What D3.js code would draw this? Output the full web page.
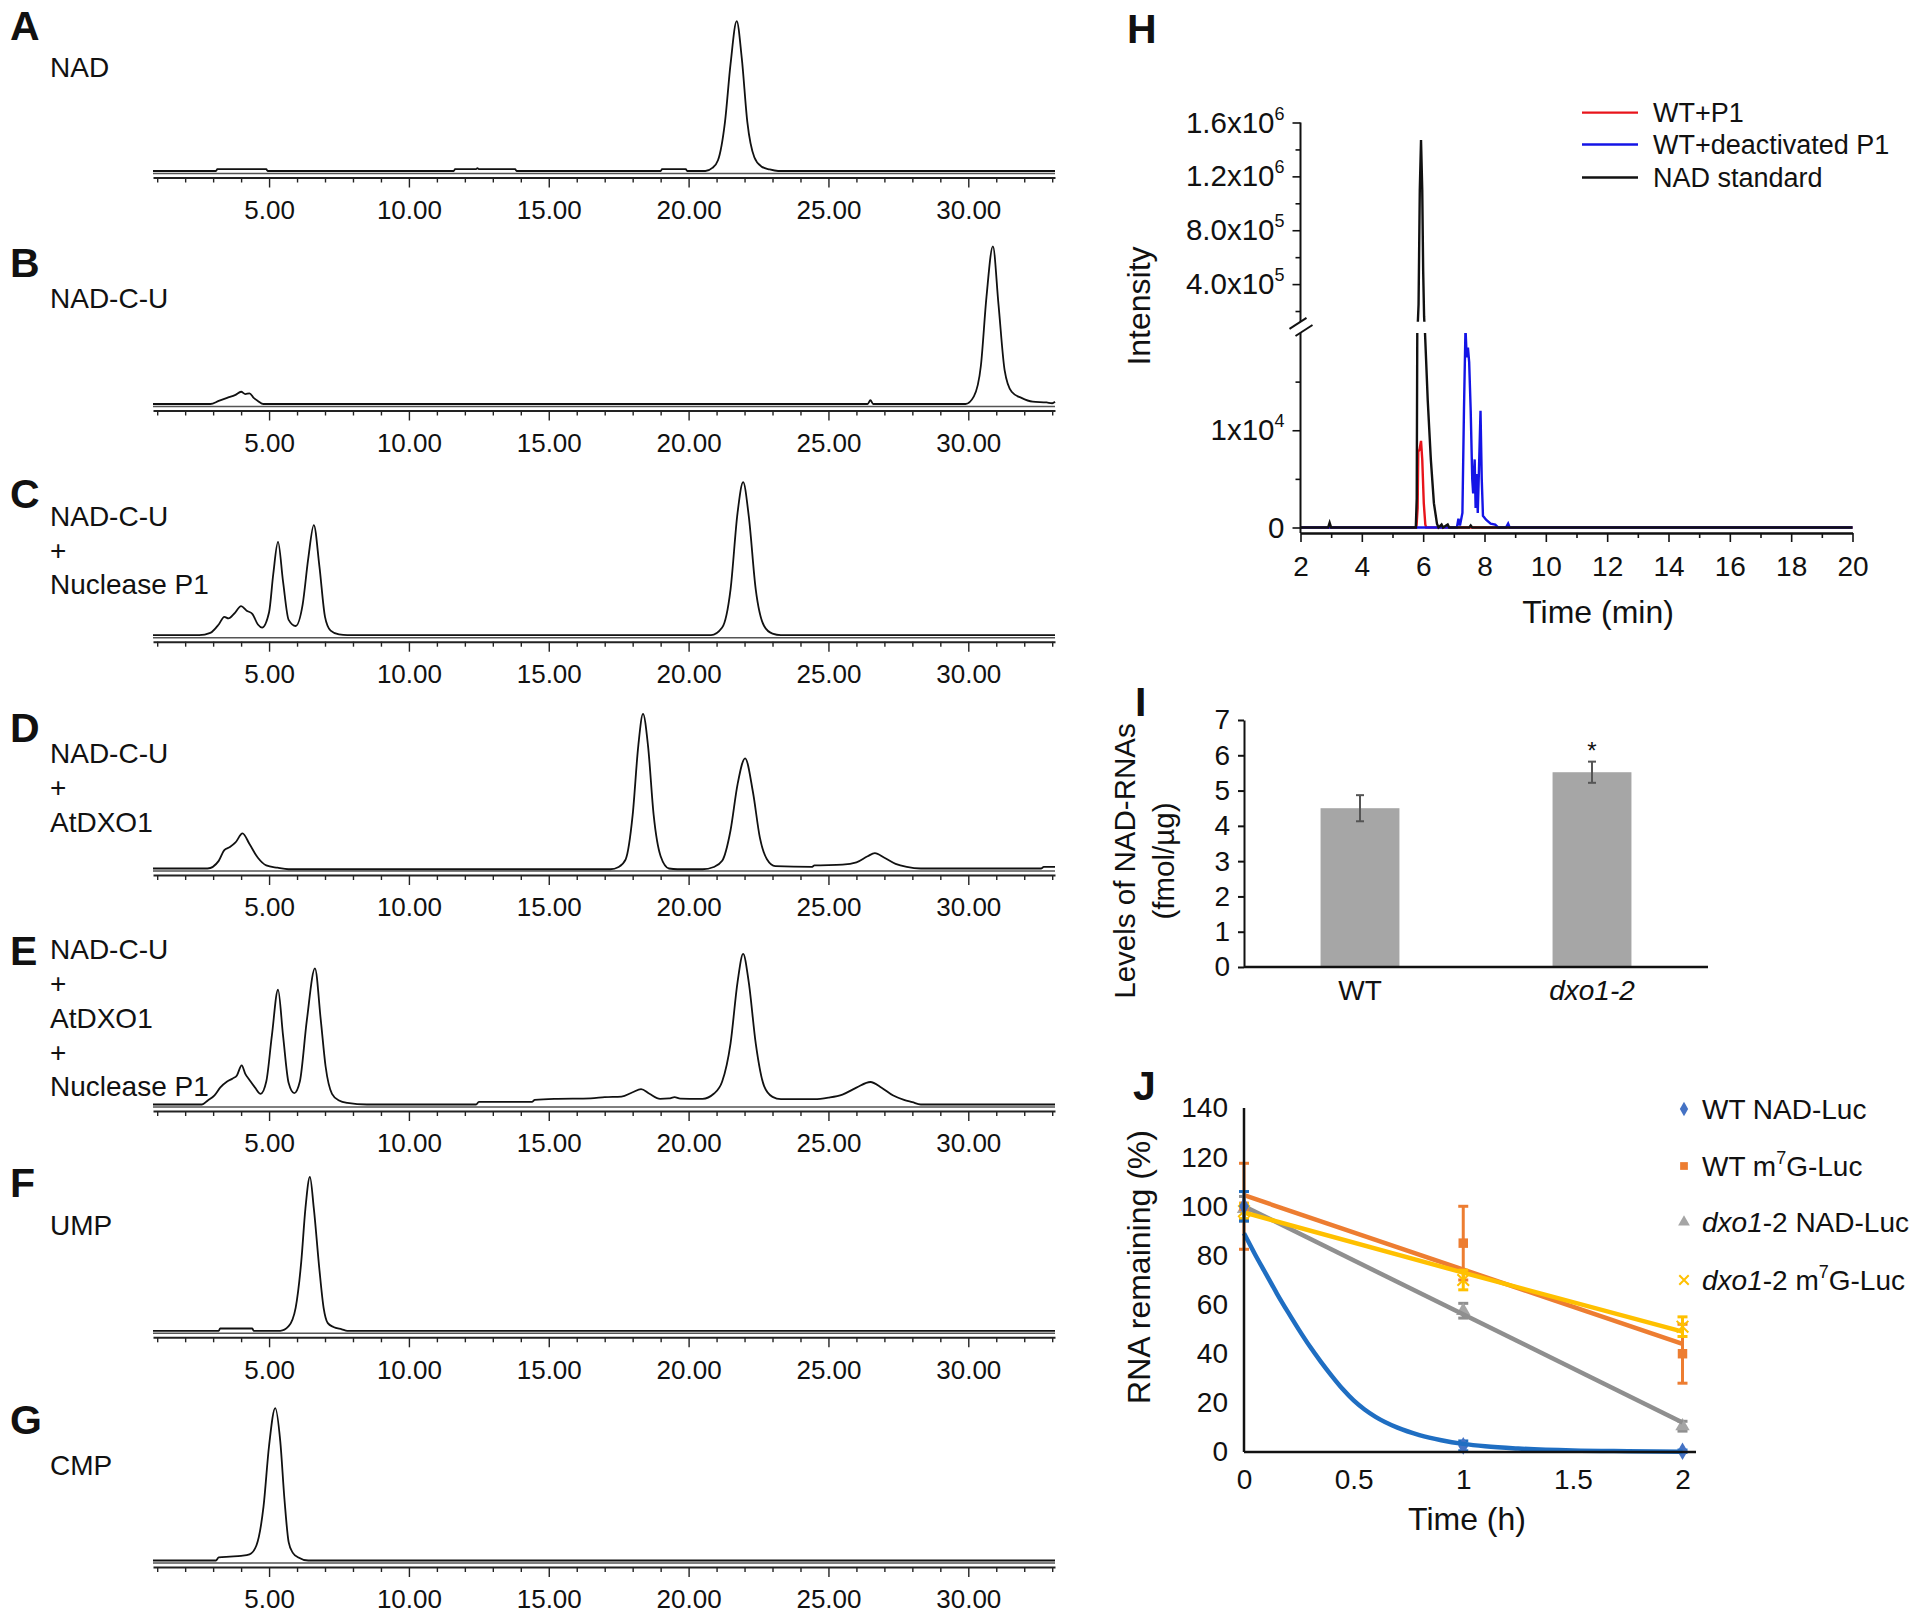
<!DOCTYPE html>
<html>
<head>
<meta charset="utf-8">
<script src="https://cdn.jsdelivr.net/npm/d3@7"></script>
<style>
  body { margin: 0; background: #fff; }
  text { font-family: "Liberation Sans", Arial, sans-serif; fill: #111; }
</style>
</head>
<body>
<svg id="fig" width="1920" height="1614"></svg>
<script>
// ---------- data: HPLC traces A-G, [time (min), relative absorbance %] ----------
const hplcMajor = [5, 10, 15, 20, 25, 30];

const traceNAD = [[0.85,0],[3.1,0],[3.15,1.2],[4.9,1.2],[4.95,0],[11.6,0],[11.65,1.2],[12.4,1.2],[12.45,1.8],[12.5,1.2],[13.8,1.2],[13.85,0],
  [19.0,0],[19.05,1.2],[19.9,1.2],[19.95,0],[20.6,0],[20.85,2],[21.05,7],[21.3,32],[21.5,70],[21.72,98],[21.9,74],[22.1,32],[22.35,9],
  [22.6,3],[22.9,1],[23.2,0],[33.1,0]];

const traceNADCU = [[0.85,0],[2.9,0],[3.2,2],[3.5,4],[3.8,6],[4.0,8],[4.15,6.5],[4.3,7],[4.45,4],[4.6,2],[4.8,0],[26.4,0],[26.5,2.5],[26.6,0],
  [29.9,0],[30.2,5],[30.45,25],[30.65,70],[30.88,103],[31.08,65],[31.3,22],[31.55,8],[31.9,4],[32.3,1.5],[32.8,1],[33.0,0.5],[33.1,1.5]];

const traceNADCU_P1 = [[0.85,0],[2.5,0],[2.9,1.5],[3.2,7],[3.4,12],[3.55,11],[3.75,14],[4.0,19],[4.2,16],[4.4,14],[4.6,7],[4.75,5],[5.0,15],
  [5.15,40],[5.32,61],[5.5,35],[5.7,10],[5.95,6],[6.2,20],[6.4,50],[6.6,72],[6.8,45],[7.0,12],[7.2,3],[7.5,0.5],[7.8,0],[20.8,0],[21.2,5],
  [21.5,30],[21.75,80],[21.95,100],[22.15,78],[22.4,30],[22.7,6],[23.0,1],[23.3,0],[33.1,0]];

const traceNADCU_DXO = [[0.85,0],[2.8,0],[3.2,5],[3.4,12],[3.6,14],[3.8,17],[4.05,23],[4.3,16],[4.6,7],[4.9,2],[5.3,0.5],[5.7,-0.5],[17.2,-0.5],
  [17.5,1],[17.75,6],[18.0,35],[18.2,80],[18.37,101],[18.55,80],[18.75,35],[19.0,8],[19.3,0],[19.6,-0.5],[20.5,-0.5],[20.9,1],[21.2,5],
  [21.5,25],[21.75,55],[22.02,72],[22.3,50],[22.55,20],[22.8,6],[23.1,1.5],[24.4,1],[24.5,2],[25.5,2.5],[26.0,4],[26.4,8],[26.66,10],
  [27.0,7],[27.4,3],[27.8,1],[28.3,0],[32.6,0],[32.7,1],[33.1,1]];

const traceNADCU_DXO_P1 = [[0.85,0],[2.6,0],[2.8,2.5],[3.05,6],[3.25,11],[3.5,15],[3.7,17],[3.85,19],[4.02,25.6],[4.15,20],[4.3,16],[4.5,11],
  [4.7,7],[4.9,15],[5.1,45],[5.32,75],[5.5,45],[5.7,14],[5.9,7.4],[6.1,15],[6.35,55],[6.64,89],[6.85,55],[7.02,25],[7.25,7],[7.5,2.6],
  [7.8,1],[8.5,0],[12.4,0],[12.5,1.7],[14.4,1.7],[14.5,3],[15.2,3.7],[16.5,4],[17.0,4.8],[17.6,5.2],[18.0,8],[18.3,10],[18.6,7],[18.98,3.7],
  [19.3,4],[19.5,4.8],[19.7,3.8],[20.5,3.7],[20.9,7],[21.2,15],[21.5,40],[21.75,80],[21.95,98.5],[22.15,80],[22.4,40],[22.7,12],[23.0,5],
  [23.3,3.5],[24.5,3.5],[25.0,4.5],[25.5,6.5],[26.0,11],[26.5,14.7],[26.9,11],[27.3,6],[27.7,3],[28.0,1.5],[28.3,0],[33.1,0]];

const traceUMP = [[0.85,0],[3.2,0],[3.25,1.5],[4.4,1.5],[4.45,0],[5.4,0],[5.7,3],[5.95,15],[6.15,45],[6.3,80],[6.46,100.6],[6.6,80],
  [6.8,40],[6.95,15],[7.1,5],[7.3,2.5],[7.6,1],[7.8,0],[33.1,0]];

const traceCMP = [[0.85,0],[3.1,0],[3.2,2],[3.6,2.5],[4.0,3],[4.3,4],[4.55,10],[4.8,35],[5.0,75],[5.22,99.6],[5.4,78],[5.55,40],[5.7,12],
  [5.85,5],[6.05,2],[6.4,0],[33.1,0]];

// ---------- data: H, LC-MS intensity vs time (min) ----------
const hTicks = [2, 4, 6, 8, 10, 12, 14, 16, 18, 20];
const hLegend = ["WT+P1", "WT+deactivated P1", "NAD standard"];
const hRed = [[2,0],[5.78,0],[5.82,2000],[5.84,7800],[5.88,8000],[5.93,8900],[5.97,7000],[6.02,2500],[6.07,300],[6.1,0],[20,0]];
const hBlue = [[2,0],[7.1,0],[7.15,900],[7.2,200],[7.28,1500],[7.33,12000],[7.38,20500],[7.42,17500],[7.46,18500],[7.5,17000],
  [7.55,12000],[7.6,5000],[7.63,3500],[7.68,7000],[7.71,2000],[7.75,5500],[7.78,1500],[7.82,6000],[7.87,12000],[7.91,5000],[7.95,1200],
  [8.05,800],[8.2,400],[8.35,300],[8.45,0],[8.7,0],[8.77,400],[8.82,0],[20,0]];
const hBlack = [[2,0],[2.9,0],[2.95,500],[3.0,0],[5.76,0],[5.79,3000],[5.81,22000],[5.85,250000],[5.89,1100000],[5.93,1470000],
  [5.97,1100000],[6.0,500000],[6.03,160000],[6.06,20000],[6.15,13000],[6.25,7000],[6.35,2500],[6.45,400],[6.5,0],[6.6,300],[6.65,0],
  [6.8,300],[6.85,0],[7.5,0],[7.55,200],[7.6,0],[20,0]];

// ---------- data: I, NAD-RNA levels ----------
const iGroups = ["WT", "dxo1-2"];
const iValues = [4.5, 5.52];
const iErrors = [0.37, 0.3];

// ---------- data: J, RNA remaining (%) vs time (h) ----------
const jTimes = [0, 1, 2];
const jNames = ["WT NAD-Luc", "WT m7G-Luc", "dxo1-2 NAD-Luc", "dxo1-2 m7G-Luc"];
const wtNad = [100, 2.5, 0.3];      const wtNadErr = [6, 2, 0.5];
const wtM7g = [100, 85, 40];        const wtM7gErr = [17.5, 15, 12];
const dxoNad = [99, 57.5, 10.5];    const dxoNadErr = [5, 3, 2];
const dxoM7g = [98, 70, 51];        const dxoM7gErr = [3, 4, 4];
const trendWtNad = [[0,89],[0.05,80.5],[0.1,72.5],[0.15,64.5],[0.2,57],[0.25,49.8],[0.3,43],[0.35,36.8],[0.4,31],[0.45,25.6],[0.5,21],
  [0.55,17.3],[0.6,14.3],[0.7,9.9],[0.8,6.9],[0.9,4.8],[1.0,3.3],[1.1,2.3],[1.25,1.4],[1.5,0.6],[1.75,0.3],[2.0,0.1]];
const trendWtM7g = [[0,104.5],[2,44]];
const trendDxoNad = [[0,100],[2,12]];
const trendDxoM7g = [[0,97.5],[1,73],[2,49]];

// ---------- layout ----------
const svg = d3.select("#fig");
const FONT = "Liberation Sans, Arial, sans-serif";

const panels = [
  { letter: "A", letterY: 40,  labels: ["NAD"], labelY: 77, axisY: 177.5, trace: traceNAD },
  { letter: "B", letterY: 277, labels: ["NAD-C-U"], labelY: 307.6, axisY: 410.5, trace: traceNADCU },
  { letter: "C", letterY: 508, labels: ["NAD-C-U", "+", "Nuclease P1"], labelY: 525.5, axisY: 641.7, trace: traceNADCU_P1 },
  { letter: "D", letterY: 742, labels: ["NAD-C-U", "+", "AtDXO1"], labelY: 763, axisY: 875, trace: traceNADCU_DXO },
  { letter: "E", letterY: 965, labels: ["NAD-C-U", "+", "AtDXO1", "+", "Nuclease P1"], labelY: 959, axisY: 1111, trace: traceNADCU_DXO_P1 },
  { letter: "F", letterY: 1197, labels: ["UMP"], labelY: 1234.5, axisY: 1337.3, trace: traceUMP },
  { letter: "G", letterY: 1434, labels: ["CMP"], labelY: 1474.5, axisY: 1567, trace: traceCMP },
];

const panelLetter = (x, y, t) => svg.append("text").attr("x", x).attr("y", y)
  .attr("font-size", 41).attr("font-weight", "bold").text(t);

// ---------- A-G chromatograms ----------
const xT = d3.scaleLinear().domain([0.85, 33.1]).range([153, 1055]);
const minorT = d3.range(1, 34).filter(d => d % 5 !== 0);

panels.forEach(p => {
  const base = p.axisY - 6.5;
  const y = d3.scaleLinear().domain([0, 100]).range([base, base - 153]);
  const g = svg.append("g");

  panelLetter(10, p.letterY, p.letter);
  p.labels.forEach((t, i) => {
    g.append("text").attr("x", 50).attr("y", p.labelY + i * 34.3).attr("font-size", 28).text(t);
  });

  // reference line under the trace (double baseline look)
  g.append("line")
    .attr("x1", xT(0.85)).attr("x2", xT(33.1))
    .attr("y1", y(0) + 2.5).attr("y2", y(0) + 2.5)
    .attr("stroke", "#555").attr("stroke-width", 1.5);

  g.append("path").datum(p.trace)
    .attr("fill", "none").attr("stroke", "#111").attr("stroke-width", 1.8)
    .attr("d", d3.line().x(d => xT(d[0])).y(d => y(d[1])).curve(d3.curveMonotoneX));

  const ax = g.append("g").attr("transform", `translate(0,${p.axisY})`);
  ax.append("g").call(d3.axisBottom(xT).tickValues(minorT).tickSize(5).tickSizeOuter(0).tickFormat(""))
    .call(a => a.select(".domain").remove());
  ax.append("g").call(d3.axisBottom(xT).tickValues(hplcMajor).tickSize(10).tickSizeOuter(0)
      .tickPadding(13).tickFormat(d3.format(".2f")))
    .attr("font-family", FONT).attr("font-size", 26);
  ax.selectAll("line").attr("stroke", "#222").attr("stroke-width", 1.4);
  ax.selectAll(".domain").attr("stroke", "#222").attr("stroke-width", 2);
  ax.selectAll("text").attr("fill", "#111");
});

// ---------- H: LC-MS chromatogram with broken y axis ----------
{
  panelLetter(1127, 43, "H");
  const x = d3.scaleLinear().domain([2, 20]).range([1300.5, 1852.5]);
  const yLow = d3.scaleLinear().domain([0, 20000]).range([527.5, 333]);
  const yUp = d3.scaleLinear().domain([400000, 1600000]).range([284.1, 122.5]);
  const axisY = 533;
  const g = svg.append("g");

  svg.append("defs").call(d => {
    d.append("clipPath").attr("id", "clipLow").append("rect")
      .attr("x", x(2)).attr("y", yLow(20000)).attr("width", x(20) - x(2) + 4).attr("height", axisY - 2 - yLow(20000));
    d.append("clipPath").attr("id", "clipUp").append("rect")
      .attr("x", x(2)).attr("y", 100).attr("width", x(20) - x(2) + 4).attr("height", yUp(120000) - 100);
  });

  const series = [
    { data: hRed, color: "#e8141b" },
    { data: hBlue, color: "#1414e6" },
    { data: hBlack, color: "#111" },
  ];
  series.forEach(s => {
    g.append("path").datum(s.data).attr("clip-path", "url(#clipLow)")
      .attr("fill", "none").attr("stroke", s.color).attr("stroke-width", 2.4)
      .attr("d", d3.line().x(d => x(d[0])).y(d => yLow(d[1])));
    g.append("path").datum(s.data).attr("clip-path", "url(#clipUp)")
      .attr("fill", "none").attr("stroke", s.color).attr("stroke-width", 2.4)
      .attr("d", d3.line().x(d => x(d[0])).y(d => yUp(d[1])));
  });

  // x axis
  const xa = g.append("g").attr("transform", `translate(0,${axisY})`);
  xa.append("g").call(d3.axisBottom(x).tickValues(d3.range(3, 20, 2)).tickSize(5).tickSizeOuter(0).tickFormat(""));
  xa.append("g").call(d3.axisBottom(x).tickValues(hTicks).tickSize(9).tickSizeOuter(0).tickPadding(14))
    .attr("font-family", FONT).attr("font-size", 28);

  // y axis, lower and upper segments
  const ya = g.append("g").attr("transform", `translate(${x(2)},0)`);
  ya.append("g").call(d3.axisLeft(yLow).tickValues([0, 10000]).tickSize(8).tickSizeOuter(0).tickFormat(""));
  ya.append("g").call(d3.axisLeft(yLow).tickValues([5000, 15000]).tickSize(5).tickSizeOuter(0).tickFormat(""));
  ya.append("g").call(d3.axisLeft(yUp).tickValues([400000, 800000, 1200000, 1600000]).tickSize(8).tickSizeOuter(0).tickFormat(""));
  ya.append("g").call(d3.axisLeft(yUp).tickValues([200000, 600000, 1000000, 1400000]).tickSize(5).tickSizeOuter(0).tickFormat(""));
  ya.selectAll(".domain").remove();
  ya.append("line").attr("x1", 0).attr("x2", 0).attr("y1", yUp(1600000)).attr("y2", yUp(120000));
  ya.append("line").attr("x1", 0).attr("x2", 0).attr("y1", yLow(20000)).attr("y2", axisY);
  ya.append("line").attr("x1", -11).attr("x2", 6).attr("y1", yUp(120000) + 7).attr("y2", yUp(120000) - 4);
  ya.append("line").attr("x1", -5).attr("x2", 12).attr("y1", yLow(20000) + 3).attr("y2", yLow(20000) - 8);
  g.selectAll("line, .domain").attr("stroke", "#111").attr("stroke-width", 2);
  xa.selectAll(".tick line").attr("stroke-width", 1.6);
  ya.selectAll(".tick line").attr("stroke-width", 1.6);

  const yLabels = [
    { v: 0, s: yLow, base: "0", exp: "" },
    { v: 10000, s: yLow, base: "1x10", exp: "4" },
    { v: 400000, s: yUp, base: "4.0x10", exp: "5" },
    { v: 800000, s: yUp, base: "8.0x10", exp: "5" },
    { v: 1200000, s: yUp, base: "1.2x10", exp: "6" },
    { v: 1600000, s: yUp, base: "1.6x10", exp: "6" },
  ];
  yLabels.forEach(l => {
    const t = g.append("text").attr("x", x(2) - 16).attr("y", l.s(l.v) + 10)
      .attr("text-anchor", "end").attr("font-size", 29.5);
    t.append("tspan").text(l.base);
    if (l.exp) t.append("tspan").attr("dy", -13).attr("font-size", 18).text(l.exp);
  });

  g.append("text").attr("x", 1598).attr("y", 623).attr("text-anchor", "middle").attr("font-size", 32).text("Time (min)");
  g.append("text").attr("transform", "translate(1150,306) rotate(-90)").attr("text-anchor", "middle")
    .attr("font-size", 32).text("Intensity");

  const lg = g.append("g");
  hLegend.forEach((name, i) => {
    const yy = [112.6, 144.5, 177.5][i];
    lg.append("line").attr("x1", 1582).attr("x2", 1638).attr("y1", yy).attr("y2", yy)
      .attr("stroke", series[i].color).attr("stroke-width", 2.4);
    lg.append("text").attr("x", 1653).attr("y", yy + 9.5).attr("font-size", 27).text(name);
  });
}

// ---------- I: bar chart ----------
{
  panelLetter(1135, 716, "I");
  const x = d3.scaleBand().domain(iGroups).range([1244, 1708]).paddingInner(0.66).paddingOuter(0.33);
  const y = d3.scaleLinear().domain([0, 7]).range([967, 720]);
  const g = svg.append("g");

  g.selectAll("rect.bar").data(iValues).join("rect").attr("class", "bar")
    .attr("x", (d, i) => x(iGroups[i])).attr("width", x.bandwidth())
    .attr("y", d => y(d)).attr("height", d => y(0) - y(d)).attr("fill", "#a6a6a6");

  iValues.forEach((v, i) => {
    const cx = x(iGroups[i]) + x.bandwidth() / 2;
    const e = g.append("g").attr("stroke", "#555").attr("stroke-width", 2);
    e.append("line").attr("x1", cx).attr("x2", cx).attr("y1", y(v - iErrors[i])).attr("y2", y(v + iErrors[i]));
    e.append("line").attr("x1", cx - 4).attr("x2", cx + 4).attr("y1", y(v - iErrors[i])).attr("y2", y(v - iErrors[i]));
    e.append("line").attr("x1", cx - 4).attr("x2", cx + 4).attr("y1", y(v + iErrors[i])).attr("y2", y(v + iErrors[i]));
  });
  const cx2 = x(iGroups[1]) + x.bandwidth() / 2;
  g.append("text").attr("x", cx2).attr("y", y(iValues[1] + iErrors[1]) - 3).attr("text-anchor", "middle")
    .attr("font-size", 24).text("*");

  g.append("g").attr("transform", `translate(1244,0)`)
    .call(d3.axisLeft(y).ticks(7).tickSize(6).tickSizeOuter(0).tickPadding(8))
    .attr("font-family", FONT).attr("font-size", 28)
    .call(a => a.selectAll("line, .domain").attr("stroke", "#111").attr("stroke-width", 2));
  g.append("line").attr("x1", 1244).attr("x2", 1708).attr("y1", y(0)).attr("y2", y(0))
    .attr("stroke", "#111").attr("stroke-width", 2.5);

  iGroups.forEach((name, i) => {
    g.append("text").attr("x", x(name) + x.bandwidth() / 2).attr("y", 1000).attr("text-anchor", "middle")
      .attr("font-size", 28).attr("font-style", i === 1 ? "italic" : "normal").text(name);
  });

  const t = g.append("text").attr("transform", "translate(1125,861) rotate(-90)").attr("text-anchor", "middle").attr("font-size", 29.5);
  t.append("tspan").attr("x", 0).attr("dy", "0.35em").text("Levels of NAD-RNAs");
  t.append("tspan").attr("x", 0).attr("dy", 39).text("(fmol/µg)");
}

// ---------- J: RNA decay ----------
{
  panelLetter(1133, 1100, "J");
  const x = d3.scaleLinear().domain([0, 2]).range([1244, 1682.5]);
  const y = d3.scaleLinear().domain([0, 140]).range([1452, 1108]);
  const g = svg.append("g");
  const line = d3.line().x(d => x(d[0])).y(d => y(d[1])).curve(d3.curveMonotoneX);

  const series = [
    { name: jNames[2], vals: dxoNad, err: dxoNadErr, trend: trendDxoNad, color: "#8f8f8f", marker: "triangle" },
    { name: jNames[1], vals: wtM7g, err: wtM7gErr, trend: trendWtM7g, color: "#ed7d31", marker: "square" },
    { name: jNames[3], vals: dxoM7g, err: dxoM7gErr, trend: trendDxoM7g, color: "#ffc000", marker: "cross" },
    { name: jNames[0], vals: wtNad, err: wtNadErr, trend: trendWtNad, color: "#1f6ec2", marker: "diamond" },
  ];
  const sym = { triangle: d3.symbolTriangle, square: d3.symbolSquare, cross: d3.symbolX, diamond: d3.symbolDiamond };
  const markColor = { triangle: "#a5a5a5", square: "#ed7d31", cross: "#ffc000", diamond: "#4472c4" };

  series.forEach(s => {
    const sg = g.append("g");
    s.vals.forEach((v, i) => {
      const cx = x(jTimes[i]);
      const eg = sg.append("g").attr("stroke", s.color).attr("stroke-width", 3);
      eg.append("line").attr("x1", cx).attr("x2", cx).attr("y1", y(v - s.err[i])).attr("y2", y(v + s.err[i]));
      eg.append("line").attr("x1", cx - 5).attr("x2", cx + 5).attr("y1", y(v - s.err[i])).attr("y2", y(v - s.err[i]));
      eg.append("line").attr("x1", cx - 5).attr("x2", cx + 5).attr("y1", y(v + s.err[i])).attr("y2", y(v + s.err[i]));
      const p = sg.append("path").attr("transform", `translate(${cx},${y(v)})`)
        .attr("d", d3.symbol(sym[s.marker], 90)());
      if (s.marker === "cross") p.attr("fill", "none").attr("stroke", markColor[s.marker]).attr("stroke-width", 2);
      else p.attr("fill", markColor[s.marker]);
    });
    sg.append("path").datum(s.trend).attr("fill", "none").attr("stroke", s.color)
      .attr("stroke-width", 4.5).attr("d", line);
  });

  g.append("line").attr("x1", 1244).attr("x2", 1244).attr("y1", y(140)).attr("y2", y(0)).attr("stroke", "#111").attr("stroke-width", 2.5);
  g.append("line").attr("x1", 1244).attr("x2", 1696).attr("y1", y(0)).attr("y2", y(0)).attr("stroke", "#111").attr("stroke-width", 2.5);

  g.append("g").attr("transform", "translate(1244,0)")
    .call(d3.axisLeft(y).tickValues(d3.range(0, 141, 20)).tickSize(0).tickPadding(16))
    .attr("font-family", FONT).attr("font-size", 28)
    .call(a => a.select(".domain").remove());
  g.append("g").attr("transform", `translate(0,${y(0)})`)
    .call(d3.axisBottom(x).tickValues([0, 0.5, 1, 1.5, 2]).tickSize(0).tickPadding(17).tickFormat(d3.format("")))
    .attr("font-family", FONT).attr("font-size", 28)
    .call(a => a.select(".domain").remove());

  g.append("text").attr("x", 1467).attr("y", 1530).attr("text-anchor", "middle").attr("font-size", 32).text("Time (h)");
  g.append("text").attr("transform", "translate(1150,1267) rotate(-90)").attr("text-anchor", "middle")
    .attr("font-size", 32).text("RNA remaining (%)");

  // legend
  const rows = [
    { marker: "diamond", parts: [["WT NAD-Luc", ""]] },
    { marker: "square", parts: [["WT m", ""], ["7", "sup"], ["G-Luc", ""]] },
    { marker: "triangle", parts: [["dxo1", "it"], ["-2 NAD-Luc", ""]] },
    { marker: "cross", parts: [["dxo1", "it"], ["-2 m", ""], ["7", "sup"], ["G-Luc", ""]] },
  ];
  rows.forEach((r, i) => {
    const yy = [1109, 1166, 1222, 1280][i];
    const p = g.append("path").attr("transform", `translate(1684,${yy})`).attr("d", d3.symbol(sym[r.marker], 60)());
    if (r.marker === "cross") p.attr("fill", "none").attr("stroke", markColor[r.marker]).attr("stroke-width", 2);
    else p.attr("fill", markColor[r.marker]);
    const t = g.append("text").attr("x", 1702).attr("y", yy + 10).attr("font-size", 28);
    let raised = false;
    r.parts.forEach(([txt, kind]) => {
      const ts = t.append("tspan").text(txt);
      if (kind === "it") ts.attr("font-style", "italic");
      if (kind === "sup") { ts.attr("dy", -12).attr("font-size", 18); raised = true; }
      else if (raised) { ts.attr("dy", 12); raised = false; }
    });
  });
}
</script>
</body>
</html>
